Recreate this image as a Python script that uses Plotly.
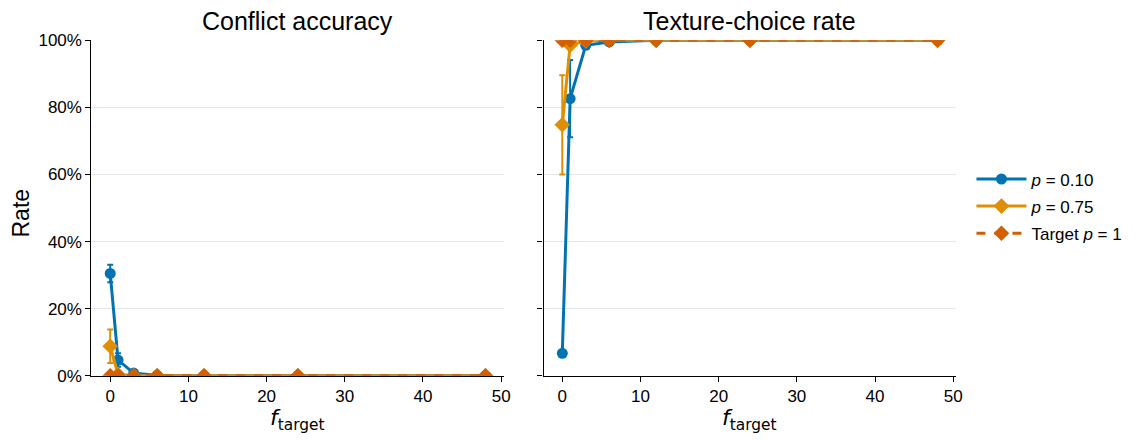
import plotly.graph_objects as go

# ---- data ----
f_target = [0, 1, 3, 6, 12, 24, 48]

conf_p010 = [0.305, 0.047, 0.008, 0.001, 0.0, 0.0, 0.0]
conf_p010_err = [0.026, 0.020, 0.004, 0.001, 0.0, 0.0, 0.0]
conf_p075 = [0.088, 0.004, 0.001, 0.0, 0.0, 0.0, 0.0]
conf_p075_err = [0.050, 0.004, 0.001, 0.0, 0.0, 0.0, 0.0]
conf_p1 = [0.0, 0.0, 0.0, 0.0, 0.0, 0.0, 0.0]
conf_p1_err = [0.0, 0.0, 0.0, 0.0, 0.0, 0.0, 0.0]

tex_p010 = [0.067, 0.826, 0.985, 0.995, 1.0, 1.0, 1.0]
tex_p010_err = [0.0, 0.115, 0.008, 0.003, 0.0, 0.0, 0.0]
tex_p075 = [0.748, 0.985, 0.998, 1.0, 1.0, 1.0, 1.0]
tex_p075_err = [0.148, 0.012, 0.002, 0.0, 0.0, 0.0, 0.0]
tex_p1 = [1.0, 1.0, 1.0, 1.0, 1.0, 1.0, 1.0]
tex_p1_err = [0.0, 0.0, 0.0, 0.0, 0.0, 0.0, 0.0]

series_names = ["<i>p</i> = 0.10", "<i>p</i> = 0.75", "Target <i>p</i> = 1"]
colors = ["#0173B2", "#DE8F05", "#D55E00"]
symbols = ["circle", "diamond", "diamond"]
dashes = ["solid", "solid", "dash"]

panel_titles = ["Conflict accuracy", "Texture-choice rate"]
y_ticks = [0, 0.2, 0.4, 0.6, 0.8, 1.0]
x_ticks = [0, 10, 20, 30, 40, 50]

W, H = 1139, 440
FONT = "Liberation Sans, Arial, sans-serif"
MATH = "DejaVu Sans, sans-serif"

fig = go.Figure()

panels = [
    [(conf_p010, conf_p010_err), (conf_p075, conf_p075_err), (conf_p1, conf_p1_err)],
    [(tex_p010, tex_p010_err), (tex_p075, tex_p075_err), (tex_p1, tex_p1_err)],
]
axes = [("x", "y"), ("x2", "y2")]

for pi, panel in enumerate(panels):
    for si, (vals, errs) in enumerate(panel):
        fig.add_trace(go.Scatter(
            x=f_target, y=vals,
            xaxis=axes[pi][0], yaxis=axes[pi][1],
            mode="lines+markers",
            name=series_names[si],
            legendgroup=str(si),
            showlegend=(pi == 0),
            line=dict(color=colors[si], width=3, dash=dashes[si]),
            marker=dict(color=colors[si], symbol=symbols[si], size=11 if si == 0 else 12),
            error_y=dict(type="data", array=errs, visible=True, color=colors[si],
                         thickness=2, width=3),
        ))

# empirical pixel -> paper mapping of the rendering environment
def px_x(p):
    return (p - 9.1) / 1125.3

def px_y(p):
    return (437.1 - p) / 420.3

ydom = [px_y(375), px_y(40)]
common_x = dict(
    range=[-2.4, 50.4], tickvals=x_ticks, showgrid=False, zeroline=False,
    showline=True, linecolor="black", linewidth=1.3, ticks="outside",
    ticklen=5, tickcolor="black", tickfont=dict(size=17, color="black", family=FONT),
    mirror=False,
)
common_y = dict(
    range=[0, 1], tickvals=y_ticks, tickformat=".0%", showgrid=True,
    gridcolor="#e6e6e6", gridwidth=1, zeroline=False, showline=True,
    linecolor="black", linewidth=1.3, ticks="outside", ticklen=5, tickcolor="black",
    tickfont=dict(size=17, color="black", family=FONT), domain=ydom,
)

fig.update_layout(
    width=W, height=H,
    margin=dict(l=0, r=0, t=0, b=0),
    paper_bgcolor="white", plot_bgcolor="white",
    font=dict(family=FONT, color="black"),
    xaxis=dict(domain=[px_x(92), px_x(502)], anchor="y", **common_x),
    xaxis2=dict(domain=[px_x(541), px_x(951)], anchor="y2", **common_x),
    yaxis=dict(anchor="x", **common_y),
    yaxis2=dict(anchor="x2", matches="y", showticklabels=False, **common_y),
    legend=dict(x=px_x(966), y=px_y(161), xanchor="left", yanchor="top",
                font=dict(size=17, color="black", family=FONT),
                bgcolor="rgba(0,0,0,0)", tracegroupgap=2, itemwidth=50),
    showlegend=True,
)

annos = []
for i, t in enumerate(panel_titles):
    cx = (92 + 502) / 2 if i == 0 else (541 + 951) / 2
    annos.append(dict(text=t, x=px_x(cx), y=px_y(21), xref="paper", yref="paper",
                      showarrow=False, font=dict(size=25, color="black", family=FONT),
                      xanchor="center", yanchor="middle"))
    annos.append(dict(text="<i>f</i><sub>target</sub>", x=px_x(cx), y=px_y(419),
                      xref="paper", yref="paper", showarrow=False,
                      font=dict(size=22, color="black", family=MATH),
                      xanchor="center", yanchor="middle"))
annos.append(dict(text="Rate", x=px_x(22), y=px_y(212), xref="paper", yref="paper",
                  showarrow=False, textangle=-90,
                  font=dict(size=23, color="black", family=FONT),
                  xanchor="center", yanchor="middle"))
fig.update_layout(annotations=annos)

fig.write_html("out.html")
